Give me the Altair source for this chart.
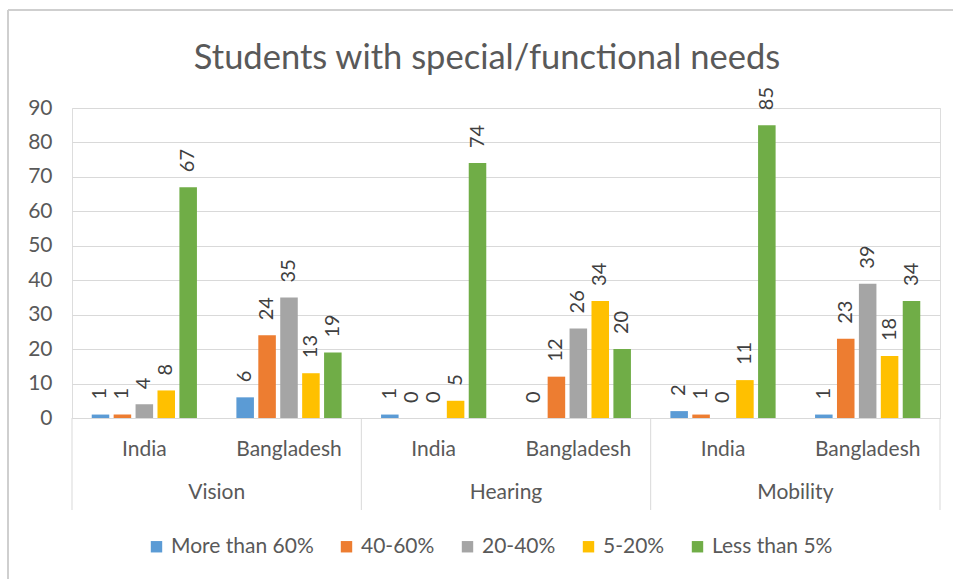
import altair as alt
import pandas as pd

groups = ["Vision", "Hearing", "Mobility"]
countries = ["India", "Bangladesh"]
series = ["More than 60%", "40-60%", "20-40%", "5-20%", "Less than 5%"]
colors = ["#5B9BD5", "#ED7D31", "#A5A5A5", "#FFC000", "#70AD47"]

# values per series, ordered Vision-India, Vision-Bangladesh, Hearing-India, Hearing-Bangladesh, Mobility-India, Mobility-Bangladesh
more_than_60 = [1, 6, 1, 0, 2, 1]
p40_60 = [1, 24, 0, 12, 1, 23]
p20_40 = [4, 35, 0, 26, 0, 39]
p5_20 = [8, 13, 5, 34, 11, 18]
less_than_5 = [67, 19, 74, 20, 85, 34]

y_ticks = [0, 10, 20, 30, 40, 50, 60, 70, 80, 90]

series_values = [more_than_60, p40_60, p20_40, p5_20, less_than_5]

combos = [f"{g}|{c}" for g in groups for c in countries]
rows = []
for s, vals in zip(series, series_values):
    for combo, v in zip(combos, vals):
        g, c = combo.split("|")
        rows.append({"combo": combo, "group": g, "country": c, "series": s, "value": v})
df = pd.DataFrame(rows)

grp_df = pd.DataFrame({"combo": [f"{g}|India" for g in groups], "group": groups})
end_df = pd.DataFrame({"combo": [f"{groups[-1]}|{countries[-1]}"]})

W, H = 868, 310
FONT = "Lato"
TXT = "#595959"
LINE = "#d9d9d9"

x_scale = alt.Scale(domain=combos, paddingInner=0, paddingOuter=0)
xo_scale = alt.Scale(domain=series, paddingInner=0.2, paddingOuter=0.9)

x_enc = alt.X("combo:N", scale=x_scale, sort=combos,
              axis=alt.Axis(title=None, labelAngle=0, ticks=False, domain=True,
                            domainColor=LINE, labelExpr="split(datum.label, '|')[1]",
                            labelFontSize=21, labelColor=TXT, labelPadding=20, grid=False,
                            labelFont=FONT))
y_enc = alt.Y("value:Q", scale=alt.Scale(domain=[0, 90], nice=False),
              axis=alt.Axis(title=None, values=y_ticks, ticks=False, domain=False,
                            gridColor=LINE, labelFontSize=21, labelColor=TXT,
                            labelPadding=20, labelFont=FONT, labelOverlap=False))

base = alt.Chart(df)

bars = base.mark_bar().encode(
    x=x_enc,
    xOffset=alt.XOffset("series:N", scale=xo_scale, sort=series),
    y=y_enc,
    color=alt.Color("series:N", scale=alt.Scale(domain=series, range=colors), sort=series,
                    legend=alt.Legend(title=None, orient="none", direction="horizontal",
                                      legendX=74, legendY=428, symbolType="square",
                                      symbolSize=130, symbolStrokeWidth=0,
                                      labelFontSize=21, labelColor=TXT, labelFont=FONT,
                                      columnPadding=22, labelOffset=4)),
)

labels = base.mark_text(angle=270, align="left", baseline="middle", dx=15,
                        fontSize=20, color="#404040", font=FONT).encode(
    x=x_enc,
    xOffset=alt.XOffset("series:N", scale=xo_scale, sort=series),
    y=y_enc,
    text=alt.Text("value:Q"),
)

seps = alt.Chart(grp_df).mark_rule(color=LINE, strokeWidth=1).encode(
    x=alt.X("combo:N", scale=x_scale, sort=combos, bandPosition=0),
    y=alt.value(H),
    y2=alt.value(H + 92),
)
end_sep = alt.Chart(end_df).mark_rule(color=LINE, strokeWidth=1).encode(
    x=alt.X("combo:N", scale=x_scale, sort=combos, bandPosition=1),
    y=alt.value(H),
    y2=alt.value(H + 92),
)

grp_labels = alt.Chart(grp_df).mark_text(fontSize=21, color=TXT, font=FONT, baseline="middle").encode(
    x=alt.X("combo:N", scale=x_scale, sort=combos, bandPosition=1),
    y=alt.value(H + 75),
    text="group:N",
)

# outer chart border (top and left edges visible in the reference)
border_top = alt.Chart(end_df).mark_rule(color="#cfcfcf", strokeWidth=2).encode(
    x=alt.value(-64), x2=alt.value(900), y=alt.value(-98))
border_left = alt.Chart(end_df).mark_rule(color="#cfcfcf", strokeWidth=2).encode(
    x=alt.value(-64), y=alt.value(-98), y2=alt.value(480))

chart = alt.layer(bars, labels, seps, end_sep, grp_labels, border_top, border_left).properties(
    width=W, height=H,
    title=alt.Title("Students with special/functional needs", fontSize=34.5, color=TXT,
                    font=FONT, fontWeight="normal", anchor="middle", offset=-67, dx=-19),
    autosize=alt.AutoSizeParams(type="none"),
    padding={"left": 72, "top": 108, "right": 13, "bottom": 161},
).configure_view(strokeWidth=0).configure(font=FONT)

chart.save("out.html", embed_options={"renderer": "svg", "actions": False})
